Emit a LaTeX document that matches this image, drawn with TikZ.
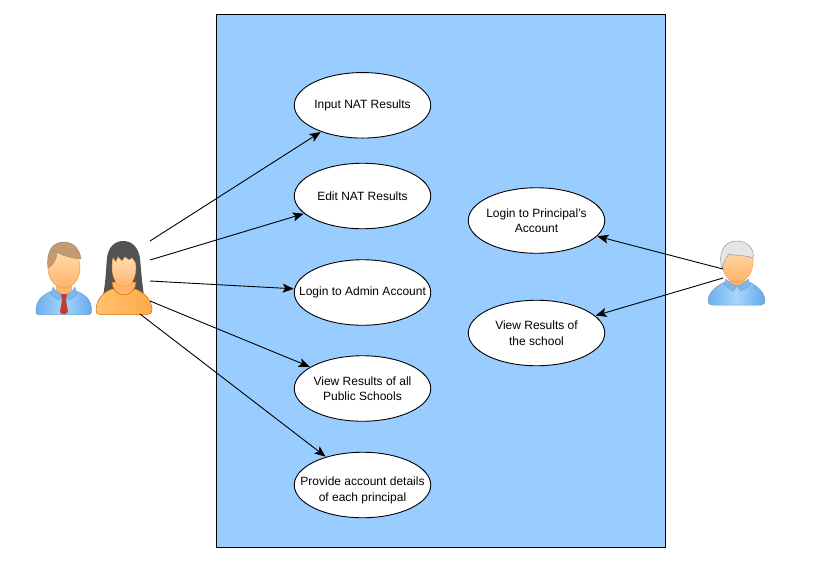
\documentclass[tikz,border=0pt]{standalone}
\usepackage{fontspec}
\setmainfont{Liberation Sans}
\usetikzlibrary{shapes.geometric,arrows.meta}
\definecolor{sysblue}{HTML}{99CCFF}
\definecolor{skinL}{HTML}{FFDDB0}
\definecolor{skinD}{HTML}{FFB469}
\definecolor{skinE}{HTML}{E8A050}
\definecolor{shirtL}{HTML}{A8D6FA}
\definecolor{shirtD}{HTML}{62A8EE}
\definecolor{shirtE}{HTML}{6C9FD0}
\definecolor{collar}{HTML}{7DB8EC}
\definecolor{orangeL}{HTML}{FFC36E}
\definecolor{orangeD}{HTML}{FFA94A}
\definecolor{hairB}{HTML}{C39B73}
\definecolor{tie}{HTML}{C63D2F}
\tikzset{
  usecase/.style={ellipse,draw=black,fill=white,line width=0.9pt,minimum width=136.5pt,minimum height=65.5pt,inner xsep=-40pt,inner ysep=-10pt,align=center,font=\fontsize{12}{15.5}\selectfont},
  assoc/.style={-{Stealth[length=11pt,width=9pt,inset=2.5pt]},line width=0.9pt,black,shorten >=0.5pt},
  skin/.style={top color=skinL,bottom color=skinD,draw=skinE,line width=0.5pt},
  shirt/.style={left color=shirtD!85!shirtL,right color=shirtD,middle color=shirtL,draw=shirtE,line width=0.5pt},
}
\begin{document}
\begin{tikzpicture}[x=1pt,y=-1pt]
\useasboundingbox (0,0) rectangle (813,566);
\fill[white] (0,0) rectangle (813,566);
\node[draw=black,fill=sysblue,line width=0.9pt,minimum width=449pt,minimum height=533pt,inner sep=0pt] (system) at (441,280.5) {};

\node[usecase] (input) at (362.5,105.3) {Input NAT Results};
\node[usecase] (edit) at (362.5,196) {Edit NAT Results};
\node[usecase] (login) at (362.5,292.5) {Login to Admin Account};
\node[usecase] (viewall) at (362.5,388.5) {View Results of all\\Public Schools};
\node[usecase,label={[align=center,font=\fontsize{12}{15.5}\selectfont,yshift=-5.5pt]center:Provide account details\\of each principal}] (provide) at (362.5,485) {};
\node[usecase] (principal) at (536.5,220.5) {Login to Principal's\\Account};
\node[usecase] (viewschool) at (536.5,333) {View Results of\\the school};

% man
\draw[shirt] (36,312) .. controls (36,300) and (42,295) .. (52,291) -- (76,291) .. controls (86,295) and (92,300) .. (91.5,312) .. controls (91,314.5) and (90,314.5) .. (88,314.5) -- (39,314.5) .. controls (37,314.5) and (36,314) .. (36,312) -- cycle;
\fill[skinD] (56,282) rectangle (72,296);
\draw[draw=shirtE,line width=0.4pt,fill=collar] (53,287) .. controls (56,292) and (60,294) .. (64,295) .. controls (68,294) and (73,292) .. (75,287) -- (77,295) -- (69,300) -- (64,295) -- (59,300) -- (51,295) -- cycle;
\fill[tie] (61,294) -- (67,294) -- (66,300) -- (68,312) -- (65.5,314) -- (62,314) -- (60,312) -- (62,300) -- cycle;
\draw[skin] (48,268) .. controls (48,254) and (56,248) .. (64,248) .. controls (72,248) and (80,254) .. (80,268) .. controls (80,280) and (72,288) .. (64,288) .. controls (56,288) and (48,280) .. (48,268) -- cycle;
\draw[fill=hairB,draw=hairB!85!black,line width=0.4pt] (48,268) .. controls (46,252) and (52,242) .. (64,242) .. controls (74,242) and (80,250) .. (81,259) .. controls (72,258) and (62,256) .. (57,252) .. controls (57,260) and (52,266) .. (48,268) -- cycle;

% woman
\fill[black!68] (103,296) .. controls (106,280) and (106,268) .. (107,258) .. controls (108,247) and (115,241) .. (123,241) .. controls (132,241) and (138,247) .. (140,258) .. controls (141,270) and (142,282) .. (144,296) -- cycle;
\draw[draw=orange!85!black,line width=0.5pt,left color=orangeL,right color=orangeD] (96,309) .. controls (97,298) and (104,292) .. (112,289) -- (135,289) .. controls (143,292) and (151,298) .. (152,309) .. controls (152,313) and (150,314.5) .. (147,314.5) -- (100,314.5) .. controls (97,314.5) and (96,313) .. (96,309) -- cycle;
\draw[draw=orange!85!black,line width=0.5pt,fill=skinD] (112,282) .. controls (113,291) and (118,295) .. (124,295) .. controls (130,295) and (135,291) .. (136,282) -- cycle;
\draw[skin] (112,266) -- (113,258) -- (116,262) -- (118,257) -- (122,261) -- (125,257) -- (129,260) -- (132,258) -- (135,262) -- (136,266) .. controls (136,280) and (130,287) .. (124,287) .. controls (118,287) and (112,280) .. (112,266) -- cycle;

% old man
\draw[shirt] (708,300) .. controls (709,291) and (718,285) .. (727,281) -- (747,281) .. controls (756,285) and (764,291) .. (765,300) .. controls (765,303) and (764,305) .. (761,305) -- (712,305) .. controls (709,305) and (708,303) .. (708,300) -- cycle;
\fill[skinD] (729,275) rectangle (745,285);
\draw[draw=shirtE,line width=0.4pt,fill=collar] (726,279) .. controls (729,283) and (733,285) .. (737,286) .. controls (741,285) and (745,283) .. (748,279) -- (750,285) -- (741,291) -- (737,286) -- (733,291) -- (724,285) -- cycle;
\draw[skin] (722,262) .. controls (722,250) and (728,245) .. (737,245) .. controls (746,245) and (753,250) .. (753,262) .. controls (753,274) and (745,282) .. (737,282) .. controls (729,282) and (722,274) .. (722,262) -- cycle;
\draw[fill=black!10,draw=black!45,line width=0.4pt] (722,268) .. controls (718,256) and (722,241) .. (737,241) .. controls (748,241) and (755,250) .. (753,258) .. controls (746,255) and (736,256) .. (729,254) .. controls (726,258) and (724,262) .. (722,268) -- cycle;

\coordinate (a1) at (150,241);
\coordinate (a2) at (150,260);
\coordinate (a3) at (150,281);
\coordinate (a4) at (150,301);
\coordinate (a5) at (140,314);
\coordinate (b1) at (723,269);
\coordinate (b2) at (723,278);
\draw[assoc] (a1) -- (input);
\draw[assoc] (a2) -- (edit);
\draw[assoc] (a3) -- (login);
\draw[assoc] (a4) -- (viewall);
\draw[assoc] (a5) -- (provide);
\draw[assoc] (b1) -- (principal);
\draw[assoc] (b2) -- (viewschool);
\end{tikzpicture}
\end{document}
